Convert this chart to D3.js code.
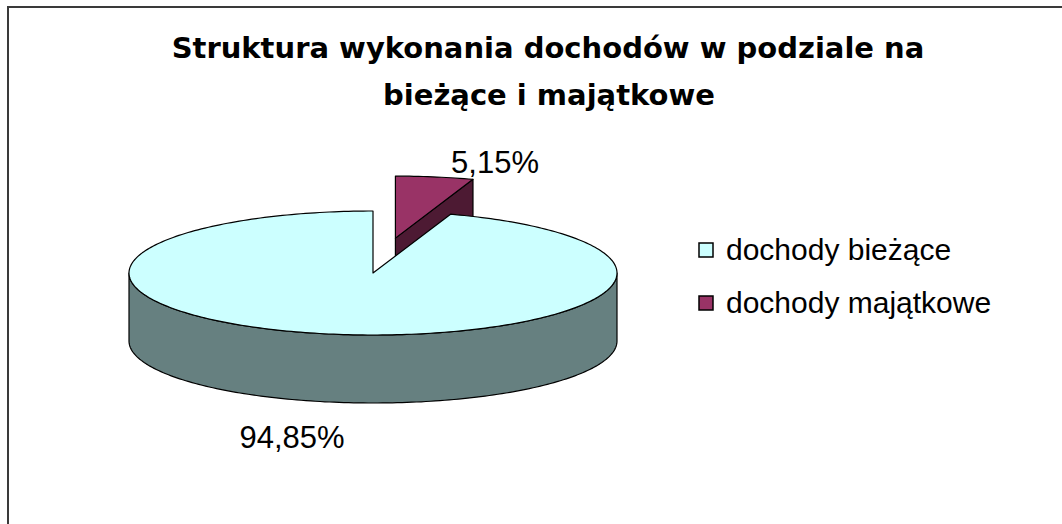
<!DOCTYPE html>
<html>
<head>
<meta charset="utf-8">
<script src="https://cdn.jsdelivr.net/npm/d3@7"></script>
<style>
body { margin: 0; background: #fff; }
svg { display: block; }
.title { font-family: "DejaVu Sans", sans-serif; font-weight: bold; font-size: 29px; fill: #000; }
.label { font-family: "Liberation Sans", Arial, sans-serif; font-size: 31px; fill: #000; }
.legend text { font-family: "Liberation Sans", Arial, sans-serif; font-size: 30px; fill: #000; }
</style>
</head>
<body>
<div id="chart"></div>
<script>
// data
const categories = ["dochody bieżące", "dochody majątkowe"];
const shares = [94.85, 5.15];
const labels = ["94,85%", "5,15%"];
const topColors = ["#ccffff", "#993366"];
const sideColors = ["#668080", "#4d1a33"];
const explode = [0, 0.57];

const W = 1062, H = 524;

const svg = d3.select("#chart")
  .append("svg")
    .attr("width", W)
    .attr("height", H);

// frame (only top and left edge are in view)
svg.append("path")
    .attr("d", "M8,524 V7 H1062")
    .attr("fill", "none")
    .attr("stroke", "#3a3a3a")
    .attr("stroke-width", 2);

// title
svg.append("text")
    .attr("class", "title")
    .attr("x", 548)
    .attr("y", 58)
    .attr("text-anchor", "middle")
  .text("Struktura wykonania dochodów w podziale na");
svg.append("text")
    .attr("class", "title")
    .attr("x", 549)
    .attr("y", 105)
    .attr("text-anchor", "middle")
  .text("bieżące i majątkowe");

// 3d pie geometry
const cx = 373, cy = 273, rx = 244, ry = 62, depth = 68;
const x = d3.scaleLinear().domain([-1, 1]).range([cx - rx, cx + rx]);
const y = d3.scaleLinear().domain([-1, 1]).range([cy - ry, cy + ry]);

// small slice first, starting at 12 o'clock, going clockwise
const pie = d3.pie().sort((a, b) => a - b);
const arcs = pie(shares);

function pt(a, r, z, off) {
  return [x(r * Math.sin(a) + off[0]), y(-r * Math.cos(a) + off[1]) + z];
}
function arcPts(a0, a1, z, off) {
  const n = Math.max(2, Math.ceil(Math.abs(a1 - a0) / 0.02));
  return d3.range(n + 1).map(i => pt(a0 + (a1 - a0) * i / n, 1, z, off));
}
const line = d3.line();

function drawSlice(d, i) {
  const g = svg.append("g");
  const mid = (d.startAngle + d.endAngle) / 2;
  const off = [explode[i] * Math.sin(mid), -explode[i] * Math.cos(mid)];
  const c0 = pt(0, 0, 0, off), c1 = pt(0, 0, depth, off);

  // radial faces facing the viewer
  [[d.startAngle, -1], [d.endAngle, 1]].forEach(([a, s]) => {
    if (s * Math.sin(a) > 0.001) {
      const p0 = pt(a, 1, 0, off), p1 = pt(a, 1, depth, off);
      g.append("path")
          .attr("d", line([c0, p0, p1, c1]) + "Z")
          .attr("fill", sideColors[i])
          .attr("stroke", "#000")
          .attr("stroke-width", 1.2)
          .attr("stroke-linejoin", "round");
    }
  });

  // outer wall, front half only
  const w0 = Math.max(d.startAngle, Math.PI / 2);
  const w1 = Math.min(d.endAngle, Math.PI * 1.5);
  if (w1 > w0) {
    const pts = arcPts(w0, w1, 0, off).concat(arcPts(w1, w0, depth, off));
    g.append("path")
        .attr("d", line(pts) + "Z")
        .attr("fill", sideColors[i])
        .attr("stroke", "#000")
        .attr("stroke-width", 1.2)
        .attr("stroke-linejoin", "round");
  }

  // top face
  g.append("path")
      .attr("d", line([c0].concat(arcPts(d.startAngle, d.endAngle, 0, off))) + "Z")
      .attr("fill", topColors[i])
      .attr("stroke", "#000")
      .attr("stroke-width", 1.2)
      .attr("stroke-linejoin", "round");
}

// exploded (rear) slice first, then the big one over it
arcs.map((d, i) => ({d, i}))
  .sort((a, b) => explode[b.i] - explode[a.i])
  .forEach(o => drawSlice(o.d, o.i));

// value labels
const labelPos = [[292, 448], [495, 173]];
svg.selectAll(".label")
  .data(labels)
  .enter()
  .append("text")
    .attr("class", "label")
    .attr("x", (d, i) => labelPos[i][0])
    .attr("y", (d, i) => labelPos[i][1])
    .attr("text-anchor", "middle")
  .text(d => d);

// legend
const legend = svg.append("g").attr("class", "legend");
const row = legend.selectAll("g")
  .data(categories)
  .enter()
  .append("g")
    .attr("transform", (d, i) => `translate(699, ${243 + i * 53})`);
row.append("rect")
    .attr("width", 14)
    .attr("height", 14)
    .attr("fill", (d, i) => topColors[i])
    .attr("stroke", "#000")
    .attr("stroke-width", 1.5);
row.append("text")
    .attr("x", 27)
    .attr("y", 17)
  .text(d => d);
</script>
</body>
</html>
